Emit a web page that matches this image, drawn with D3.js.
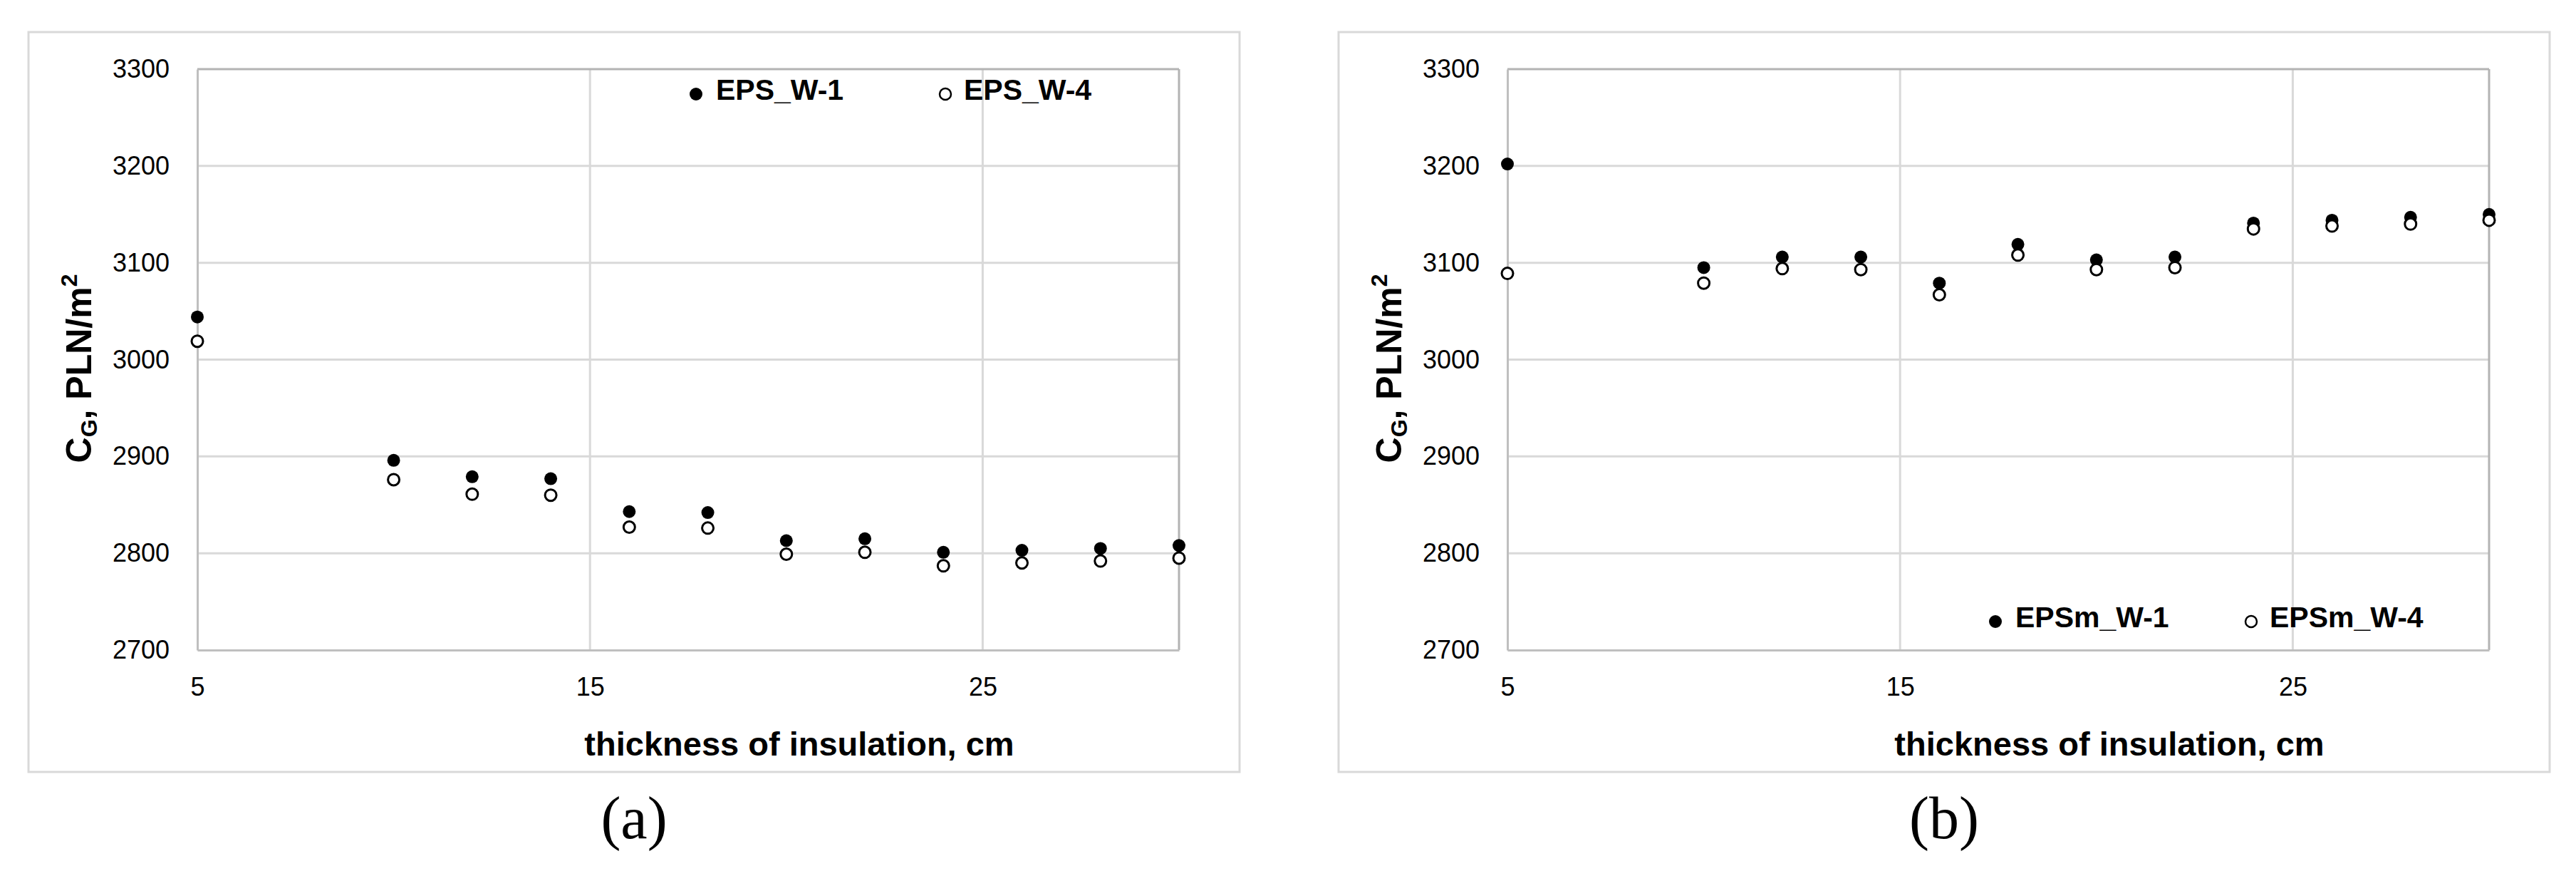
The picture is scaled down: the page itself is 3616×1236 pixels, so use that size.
<!DOCTYPE html>
<html>
<head>
<meta charset="utf-8">
<script src="https://cdn.jsdelivr.net/npm/d3@7"></script>
<style>
  html, body { margin: 0; padding: 0; background: #ffffff; }
  svg { display: block; }
  text { fill: #000; }
</style>
</head>
<body>
<svg id="chart" width="3616" height="1236"></svg>
<script>
// ---------- data ----------
const thickness = [5, 10, 12, 14, 16, 18, 20, 22, 24, 26, 28, 30];
const epsW1  = [3044, 2896, 2879, 2877, 2843, 2842, 2813, 2815, 2801, 2803, 2805, 2808];
const epsW4  = [3019, 2876, 2861, 2860, 2827, 2826, 2799, 2801, 2787, 2790, 2792, 2795];
const epsmW1 = [3202, 3095, 3106, 3106, 3079, 3119, 3103, 3106, 3141, 3144, 3147, 3150];
const epsmW4 = [3089, 3079, 3094, 3093, 3067, 3108, 3093, 3095, 3135, 3138, 3140, 3144];
const xTickValues = [5, 15, 25];
const yTickValues = [2700, 2800, 2900, 3000, 3100, 3200, 3300];
const xDomain = [5, 30];
const yDomain = [2700, 3300];
const xTitle = "thickness of insulation, cm";
const panelCaptions = ["(a)", "(b)"];
const seriesNamesA = ["EPS_W-1", "EPS_W-4"];
const seriesNamesB = ["EPSm_W-1", "EPSm_W-4"];

const SANS = "'Liberation Sans', Arial, sans-serif";
const SERIF = "'Liberation Serif', 'Times New Roman', serif";

const svg = d3.select("#chart");

function panel(cfg) {
  const fx = cfg.frameX, fy = 45, fw = 1700, fh = 1038;
  const pl = fx + 237, pr = pl + 1378, pt = 97, pb = 912;
  const g = svg.append("g").style("font-family", SANS);

  // outer chart frame
  g.append("rect").attr("x", fx).attr("y", fy).attr("width", fw).attr("height", fh)
    .attr("fill", "#fff").attr("stroke", "#d9d9d9").attr("stroke-width", 3);

  const x = d3.scaleLinear().domain(xDomain).range([pl, pr]);
  const y = d3.scaleLinear().domain(yDomain).range([pb, pt]);

  // gridlines
  g.append("g").selectAll("line").data(yTickValues.slice(1, -1)).join("line")
    .attr("x1", pl).attr("x2", pr).attr("y1", d => y(d)).attr("y2", d => y(d))
    .attr("stroke", "#d9d9d9").attr("stroke-width", 3);
  g.append("g").selectAll("line").data(xTickValues.slice(1)).join("line")
    .attr("y1", pt).attr("y2", pb).attr("x1", d => x(d)).attr("x2", d => x(d))
    .attr("stroke", "#d9d9d9").attr("stroke-width", 3);

  // plot border (top/right)
  g.append("line").attr("x1", pl).attr("x2", pr).attr("y1", pt).attr("y2", pt)
    .attr("stroke", "#b3b3b3").attr("stroke-width", 3);
  g.append("line").attr("x1", pr).attr("x2", pr).attr("y1", pt).attr("y2", pb)
    .attr("stroke", "#b3b3b3").attr("stroke-width", 3);

  // axes
  const yAxis = d3.axisLeft(y).tickValues(yTickValues).tickSize(0).tickPadding(39)
    .tickFormat(d3.format("d"));
  const ya = g.append("g").attr("transform", `translate(${pl},0)`).call(yAxis);
  ya.attr("font-family", null).attr("font-size", null);
  ya.select(".domain").attr("stroke", "#bfbfbf").attr("stroke-width", 3);
  ya.selectAll("text").style("font-size", "36px").style("font-family", SANS).attr("fill", "#000");

  const xAxis = d3.axisBottom(x).tickValues(xTickValues).tickSize(0).tickPadding(38)
    .tickFormat(d3.format("d"));
  const xa = g.append("g").attr("transform", `translate(0,${pb})`).call(xAxis);
  xa.attr("font-family", null).attr("font-size", null);
  xa.select(".domain").attr("stroke", "#bfbfbf").attr("stroke-width", 3);
  xa.selectAll("text").style("font-size", "36px").style("font-family", SANS).attr("fill", "#000");

  // axis titles
  g.append("text").attr("x", fx + 1082).attr("y", 1060)
    .attr("text-anchor", "middle").style("font-size", "47px").style("font-weight", "bold")
    .text(xTitle);

  const yt = g.append("text")
    .attr("transform", `translate(${fx + 88},517) rotate(-90)`)
    .attr("text-anchor", "middle").style("font-size", "50px").style("font-weight", "bold");
  yt.append("tspan").text("C");
  yt.append("tspan").style("font-size", "32px").attr("dy", 8).text("G");
  yt.append("tspan").attr("dy", -8).text(", PLN/m");
  yt.append("tspan").style("font-size", "32px").attr("dy", -20).text("2");

  // data points: filled first, open on top
  const pts1 = thickness.map((t, i) => ({ t, v: cfg.s1[i] }));
  const pts2 = thickness.map((t, i) => ({ t, v: cfg.s2[i] }));
  g.append("g").selectAll("circle").data(pts1).join("circle")
    .attr("cx", d => x(d.t)).attr("cy", d => y(d.v)).attr("r", 9).attr("fill", "#000");
  g.append("g").selectAll("circle").data(pts2).join("circle")
    .attr("cx", d => x(d.t)).attr("cy", d => y(d.v)).attr("r", 8)
    .attr("fill", "#fff").attr("stroke", "#000").attr("stroke-width", 3);

  // legend
  const lg = g.append("g");
  const ly = cfg.legendY;
  lg.append("circle").attr("cx", pl + cfg.leg[0]).attr("cy", ly + 8).attr("r", 9).attr("fill", "#000");
  lg.append("text").attr("x", pl + cfg.leg[0] + 28).attr("y", ly + 16)
    .style("font-size", "41px").style("font-weight", "bold").text(cfg.names[0]);
  lg.append("circle").attr("cx", pl + cfg.leg[1]).attr("cy", ly + 8).attr("r", 8)
    .attr("fill", "#fff").attr("stroke", "#000").attr("stroke-width", 2.5);
  lg.append("text").attr("x", pl + cfg.leg[1] + 26).attr("y", ly + 16)
    .style("font-size", "41px").style("font-weight", "bold").text(cfg.names[1]);

  // caption
  svg.append("text").attr("x", fx + fw / 2).attr("y", 1176)
    .attr("text-anchor", "middle").style("font-size", "84px")
    .style("font-family", SERIF)
    .text(cfg.caption);
}

panel({ frameX: 40, s1: epsW1, s2: epsW4, names: seriesNamesA, leg: [700, 1050], legendY: 124, caption: panelCaptions[0] });
panel({ frameX: 1879, s1: epsmW1, s2: epsmW4, names: seriesNamesB, leg: [685, 1044], legendY: 864, caption: panelCaptions[1] });
</script>
</body>
</html>
